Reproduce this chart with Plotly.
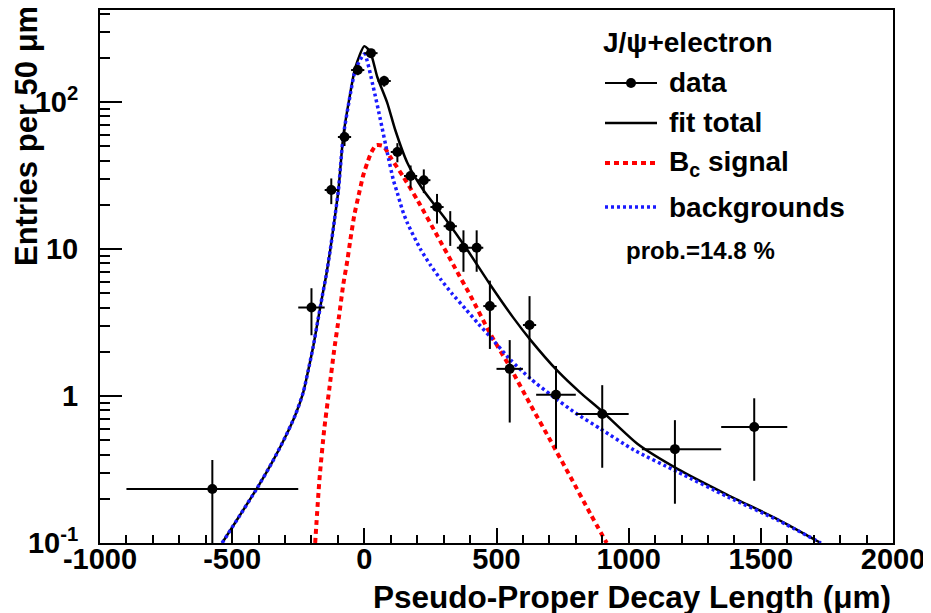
import plotly.graph_objects as go

# ---------------- data ----------------
data_x = [-575, -200, -125, -75, -25, 25, 75, 125, 175, 225, 275, 325, 375, 425, 475,
          550, 625, 725, 900, 1175, 1475]
data_xerr_plus = [325, 50, 25, 25, 25, 25, 25, 25, 25, 25, 25, 25, 25, 25, 25,
                  50, 25, 75, 100, 175, 125]
data_xerr_minus = [325, 50, 25, 25, 25, 25, 25, 25, 25, 25, 25, 25, 25, 25, 25,
                   50, 25, 75, 100, 125, 125]
data_y = [0.233, 4.0, 25.2, 57.8, 165, 215, 139, 45.7, 31.4, 29.4, 19.3, 14.3, 10.2, 10.2, 4.09,
          1.53, 3.04, 1.02, 0.755, 0.435, 0.615]
data_yerr = [0.134, 1.41, 5.0, 7.6, 12.8, 14.7, 11.8, 6.8, 5.6, 5.4, 4.4, 3.8, 3.2, 3.2, 2.0,
             0.87, 1.74, 0.58, 0.43, 0.25, 0.35]

fit_x = [-538, -470, -405, -348, -299, -261, -231, -212, -193, -174, -159, -144, -129, -114, -98,
         -80, -57, -34, 0, 23, 49, 87, 117, 163, 223, 307, 390, 477, 564, 629, 731, 818, 894,
         1034, 1186, 1375, 1564, 1727]
fit_y = [0.1, 0.155, 0.237, 0.356, 0.526, 0.743, 1.06, 1.50, 2.19, 3.40, 4.79, 6.65, 9.84, 15.3,
         25.2, 58.0, 105, 172, 240, 218, 148, 98.4, 64.5, 38.5, 25.2, 16.0, 9.84, 5.69, 3.40, 2.40,
         1.48, 1.05, 0.803, 0.471, 0.318, 0.212, 0.145, 0.1]

sig_x = [-186, -170, -152, -133, -114, -95, -80, -64, -53, -38, -23, -4, 11, 27, 45, 72, 98,
         148, 201, 277, 337, 402, 477, 553, 629, 705, 780, 856, 917]
sig_y = [0.1, 0.268, 0.587, 1.10, 2.06, 3.56, 5.69, 8.41, 11.5, 17.0, 22.6, 31.8, 38.5, 45.7, 50.9,
         50.2, 42.3, 30.9, 21.5, 12.2, 7.78, 4.79, 2.64, 1.55, 0.869, 0.494, 0.281, 0.157, 0.1]

bkg_x = [-538, -470, -405, -348, -299, -261, -231, -212, -193, -174, -159, -144, -129, -114, -98,
         -80, -57, -34, 0, 34, 61, 87, 110, 125, 144, 163, 212, 250, 288, 333, 383, 432, 477, 553,
         629, 705, 799, 894, 1019, 1186, 1375, 1564, 1727]
bkg_y = [0.1, 0.155, 0.237, 0.356, 0.526, 0.743, 1.06, 1.50, 2.19, 3.40, 4.79, 6.65, 9.84, 15.3,
         25.2, 57.8, 103, 165, 212, 126, 75.5, 45, 29.4, 24, 18.4, 15, 10.0, 7.78, 6.25, 4.94, 3.91,
         3.09, 2.52, 1.76, 1.31, 1.02, 0.766, 0.597, 0.43, 0.304, 0.206, 0.143, 0.1]

x_ticks = [-1000, -500, 0, 500, 1000, 1500, 2000]
x_ticktext = ["-1000", "-500", "0", "500", "1000", "1500", "2000"]
y_ticks = [0.1, 1, 10, 100]
y_ticktext = ["10<sup>-1</sup>", "1", "10", "10<sup>2</sup>"]
y_minor = [v * d for d in (0.1, 1, 10, 100) for v in range(2, 10) if v * d < 430]

legend_header = "J/\u03c8+electron"
legend_labels = ["data", "fit total", "B<sub>c</sub> signal", "backgrounds"]
prob_text = "prob.=14.8 %"

FONT = "Liberation Sans, Arial, Helvetica, sans-serif"
BODY = 8                      # default page margin around the plot div
W, H = 931 - BODY, 613 - BODY
L, R, T, B = 92, 38, 2, 70
PW, PH = W - L - R, H - T - B
X0, Y1 = BODY + L, BODY + T + PH   # page pixel of plot-area left / bottom


def px(xp):
    return (xp - X0) / PW


def py(yp):
    return (Y1 - yp) / PH


fig = go.Figure()

fig.add_trace(go.Scatter(x=fit_x, y=fit_y, mode="lines",
                         line=dict(color="black", width=2.5, shape="spline", smoothing=0.6),
                         showlegend=False, hoverinfo="skip"))
fig.add_trace(go.Scatter(x=sig_x, y=sig_y, mode="lines",
                         line=dict(color="#ff0000", width=4, dash="5px,4px", shape="spline",
                                   smoothing=0.6),
                         showlegend=False, hoverinfo="skip"))
fig.add_trace(go.Scatter(x=bkg_x, y=bkg_y, mode="lines",
                         line=dict(color="#1a1aff", width=3.5, dash="3px,3px", shape="spline",
                                   smoothing=0.6),
                         showlegend=False, hoverinfo="skip"))
fig.add_trace(go.Scatter(x=data_x, y=data_y, mode="markers",
                         marker=dict(color="black", size=10, symbol="circle"),
                         error_x=dict(type="data", symmetric=False, array=data_xerr_plus,
                                      arrayminus=data_xerr_minus, color="black", thickness=2,
                                      width=0),
                         error_y=dict(type="data", array=data_yerr, color="black", thickness=2,
                                      width=0),
                         showlegend=False))

# ---------------- legend (drawn like ROOT's TLegend) ----------------
shapes = []
annotations = []
lx0, lx1, ltext = 605, 657, 667
rows = [83, 123, 163, 207]
annotations.append(dict(x=px(601), y=py(43), xref="paper", yref="paper", text=legend_header,
                        showarrow=False, xanchor="left", yanchor="middle",
                        font=dict(family=FONT, size=28, color="black", weight="bold")))
styles = [dict(color="black", width=2), dict(color="black", width=2.5),
          dict(color="#ff0000", width=4, dash="5px,4px"),
          dict(color="#1a1aff", width=3.5, dash="3px,3px")]
for lab, yy, st in zip(legend_labels, rows, styles):
    shapes.append(dict(type="line", xref="paper", yref="paper", x0=px(lx0), x1=px(lx1),
                       y0=py(yy), y1=py(yy), line=st))
    annotations.append(dict(x=px(ltext), y=py(yy), xref="paper", yref="paper", text=lab,
                            showarrow=False, xanchor="left", yanchor="middle",
                            font=dict(family=FONT, size=28, color="black", weight="bold")))
mx, my, r = 631, rows[0], 5
shapes.append(dict(type="circle", xref="paper", yref="paper", x0=px(mx - r), x1=px(mx + r),
                   y0=py(my + r), y1=py(my - r), fillcolor="black", line=dict(color="black", width=0)))
annotations.append(dict(x=px(624), y=py(250), xref="paper", yref="paper", text=prob_text,
                        showarrow=False, xanchor="left", yanchor="middle",
                        font=dict(family=FONT, size=24, color="black", weight="bold")))

# axis titles (ROOT style: right / top aligned)
annotations.append(dict(x=1.0, y=py(597), xref="paper", yref="paper",
                        text="Pseudo-Proper Decay Length (\u03bcm)", showarrow=False,
                        xanchor="right", yanchor="middle",
                        font=dict(family=FONT, size=31.5, color="black", weight="bold")))
annotations.append(dict(x=px(27), y=py(4), xref="paper", yref="paper",
                        text="Entries per 50 \u03bcm", showarrow=False, textangle=-90,
                        xanchor="center", yanchor="top",
                        font=dict(family=FONT, size=31, color="black", weight="bold")))

fig.update_layout(
    width=W, height=H,
    margin=dict(l=L, r=R, t=T, b=B, pad=0, autoexpand=False),
    paper_bgcolor="white", plot_bgcolor="white",
    showlegend=False,
    shapes=shapes, annotations=annotations,
    xaxis=dict(range=[-1000, 2000], tickmode="array", tickvals=x_ticks, ticktext=x_ticktext,
               ticks="inside", ticklen=15, tickwidth=1.5, tickcolor="black",
               minor=dict(ticks="inside", dtick=100, tick0=0, ticklen=8, tickwidth=1.5,
                          tickcolor="black"),
               showline=True, linecolor="black", linewidth=2, mirror=True,
               showgrid=False, zeroline=False, ticklabelstandoff=-11, automargin=False,
               tickfont=dict(family=FONT, size=29, color="black", weight="bold")),
    yaxis=dict(type="log", range=[-1, 2.626], tickmode="array", tickvals=y_ticks,
               ticktext=y_ticktext,
               ticks="inside", ticklen=22, tickwidth=1.5, tickcolor="black",
               minor=dict(ticks="inside", tickmode="array", tickvals=y_minor, ticklen=10,
                          tickwidth=1.5, tickcolor="black"),
               showline=True, linecolor="black", linewidth=2, mirror=True,
               showgrid=False, zeroline=False, ticklabelstandoff=14, automargin=False,
               tickfont=dict(family=FONT, size=29, color="black", weight="bold")),
)

fig.write_html("out.html")
